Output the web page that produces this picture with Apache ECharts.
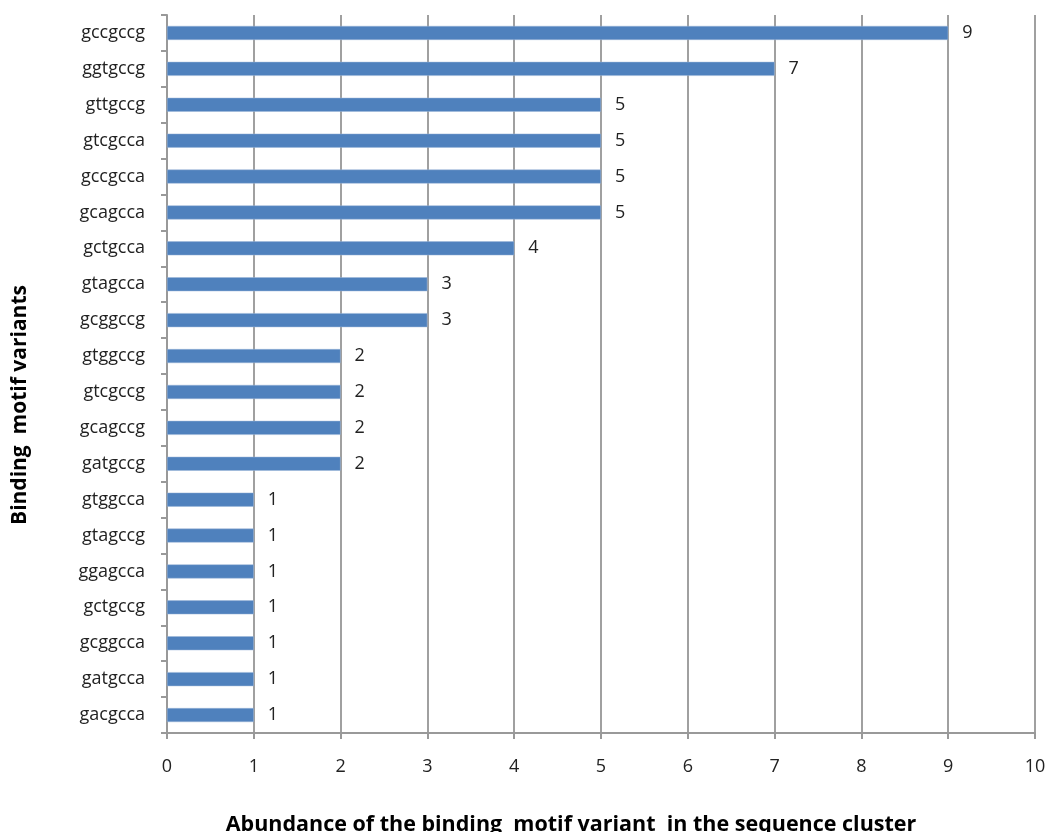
<!DOCTYPE html>
<html>
<head>
<meta charset="utf-8">
<script src="https://cdn.jsdelivr.net/npm/echarts@6/dist/echarts.min.js"></script>
<style>
  html, body { margin: 0; padding: 0; background: #fff; }
  #main { width: 1051px; height: 832px; }
</style>
</head>
<body>
<div id="main"></div>
<script>
// motif variants, top to bottom
var motifs = ['gccgccg', 'ggtgccg', 'gttgccg', 'gtcgcca', 'gccgcca', 'gcagcca', 'gctgcca',
  'gtagcca', 'gcggccg', 'gtggccg', 'gtcgccg', 'gcagccg', 'gatgccg', 'gtggcca',
  'gtagccg', 'ggagcca', 'gctgccg', 'gcggcca', 'gatgcca', 'gacgcca'];
var abundance = [9, 7, 5, 5, 5, 5, 4, 3, 3, 2, 2, 2, 2, 1, 1, 1, 1, 1, 1, 1];
var xTicks = [0, 1, 2, 3, 4, 5, 6, 7, 8, 9, 10];

var font = '"Open Sans", "Liberation Sans", sans-serif';
var chart = echarts.init(document.getElementById('main'));
chart.setOption({
  animation: false,
  grid: { left: 167, right: 16, top: 15, bottom: 99, containLabel: false, outerBoundsMode: 'none' },
  xAxis: {
    type: 'value',
    min: xTicks[0],
    max: xTicks[xTicks.length - 1],
    interval: 1,
    name: 'Abundance of the binding  motif variant  in the sequence cluster',
    nameLocation: 'middle',
    nameGap: 81,
    nameTextStyle: { fontFamily: font, fontWeight: 'bold', fontSize: 21.5, color: '#000', padding: [0, 60, 0, 0] },
    axisLine: { show: true, lineStyle: { color: '#999', width: 2 } },
    axisTick: { show: true, length: 6, lineStyle: { color: '#999', width: 2 } },
    axisLabel: { fontFamily: font, fontSize: 18, color: '#222', margin: 25 },
    splitLine: { show: true, lineStyle: { color: '#a0a0a0', width: 2 } }
  },
  yAxis: {
    type: 'category',
    data: motifs,
    inverse: true,
    name: 'Binding  motif variants',
    nameLocation: 'middle',
    nameGap: 136,
    nameTextStyle: { fontFamily: font, fontWeight: 'bold', fontSize: 21, color: '#000', padding: [0, 62, 0, 0] },
    axisLine: { show: true, lineStyle: { color: '#999', width: 2 } },
    axisTick: { show: true, length: 6, lineStyle: { color: '#999', width: 2 } },
    axisLabel: { fontFamily: font, fontSize: 18, color: '#222', margin: 22 }
  },
  series: [{
    type: 'bar',
    data: abundance,
    barWidth: 14,
    itemStyle: { color: '#4F81BD', borderColor: '#9db6d8', borderWidth: 0.5 },
    label: {
      show: true,
      position: 'right',
      distance: 14,
      fontFamily: font,
      fontSize: 18,
      color: '#222'
    }
  }]
});
</script>
</body>
</html>
